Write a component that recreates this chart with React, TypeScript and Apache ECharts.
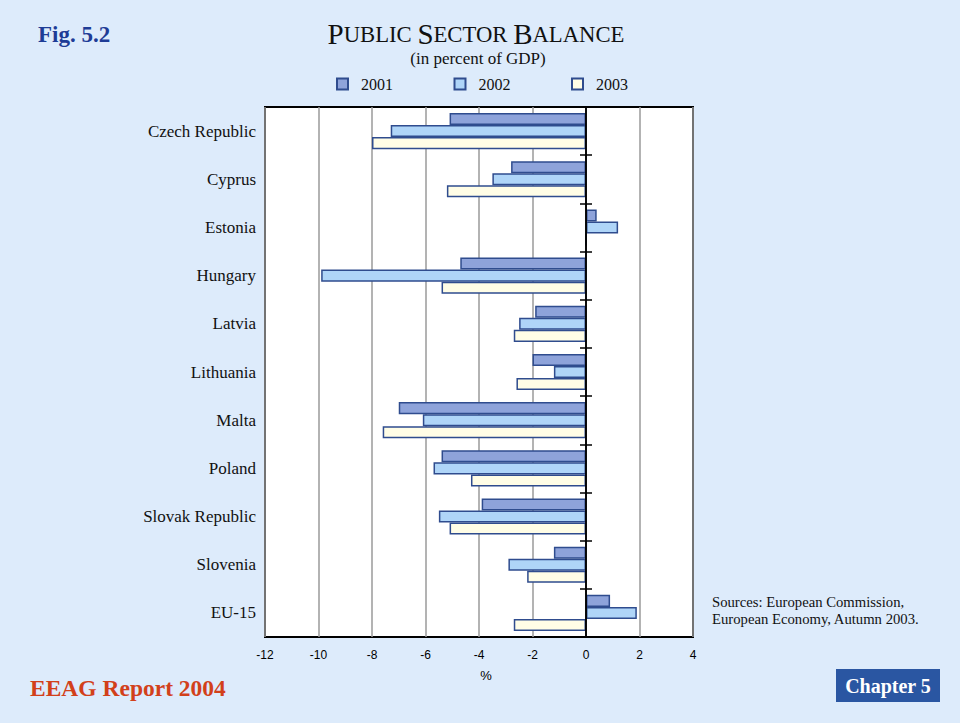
import React, { useEffect, useRef } from "react";
import * as echarts from "echarts";

const categories = [
  "Czech Republic",
  "Cyprus",
  "Estonia",
  "Hungary",
  "Latvia",
  "Lithuania",
  "Malta",
  "Poland",
  "Slovak Republic",
  "Slovenia",
  "EU-15",
];
const seriesNames = ["2001", "2002", "2003"];
const values2001 = [-5.1, -2.8, 0.4, -4.7, -1.9, -2.0, -7.0, -5.4, -3.9, -1.2, 0.9];
const values2002 = [-7.3, -3.5, 1.2, -9.9, -2.5, -1.2, -6.1, -5.7, -5.5, -2.9, 1.9];
const values2003 = [-8.0, -5.2, 0, -5.4, -2.7, -2.6, -7.6, -4.3, -5.1, -2.2, -2.7];
const xMin = -12;
const xMax = 4;
const xInterval = 2;

const fills = ["#8ea3da", "#afd5f8", "#fffde6"];
const borderCol = "#2f4c8e";
const serif = "'Liberation Serif', 'Times New Roman', serif";
const sans = "'Liberation Sans', Arial, sans-serif";

export default function App() {
  const ref = useRef<HTMLDivElement>(null);
  useEffect(() => {
    if (!ref.current) return;
    const chart = echarts.init(ref.current, null, { renderer: "svg" });
    const data = [values2001, values2002, values2003];
    const zeroAxisBase = {
      type: "category",
      data: categories,
      inverse: true,
      position: "left",
      axisLabel: { show: false },
      splitLine: { show: false },
      z: 5,
    };
    chart.setOption({
      animation: false,
      backgroundColor: "#ddebfb",
      grid: {
        left: 265,
        right: 267,
        top: 107,
        bottom: 86,
        show: true,
        backgroundColor: "#ffffff",
        borderColor: "#000000",
        borderWidth: 2,
        containLabel: false,
      },
      legend: {
        show: true,
        left: 331,
        top: 71,
        itemWidth: 11,
        itemHeight: 11,
        itemGap: 60.5,
        icon: "rect",
        data: seriesNames,
        textStyle: {
          fontFamily: serif,
          fontSize: 16,
          color: "#111",
          padding: [0, 0, 0, 8],
        },
      },
      xAxis: [
        {
          type: "value",
          min: xMin,
          max: xMax,
          interval: xInterval,
          axisLine: { show: false },
          axisTick: { show: false },
          axisLabel: {
            fontFamily: sans,
            fontSize: 12,
            color: "#000",
            margin: 12,
          },
          splitLine: { show: true, lineStyle: { color: "#9a9a9a", width: 1.5 } },
          name: "%",
          nameLocation: "middle",
          nameGap: 32,
          nameTextStyle: { fontFamily: sans, fontSize: 13, color: "#000", padding: [0, 0, 0, 14] },
        },
        {
          type: "value",
          min: xMin,
          max: xMax,
          interval: xInterval,
          show: false,
        },
      ],
      yAxis: [
        {
          type: "category",
          data: categories,
          inverse: true,
          position: "left",
          axisLine: { show: false, onZero: false },
          axisTick: { show: false },
          axisLabel: {
            fontFamily: serif,
            fontSize: 17,
            color: "#111",
            margin: 9,
            interval: 0,
          },
          splitLine: { show: false },
        },
        {
          ...zeroAxisBase,
          axisLine: { show: true, onZero: true, onZeroAxisIndex: 0, lineStyle: { color: "#000", width: 1.5 } },
          axisTick: { show: true, interval: 0, length: 6, lineStyle: { color: "#000", width: 1.5 } },
        },
        {
          ...zeroAxisBase,
          axisLine: { show: true, onZero: true, onZeroAxisIndex: 1, lineStyle: { color: "#000", width: 1.5 } },
          axisTick: { show: true, inside: true, interval: 0, length: 6, lineStyle: { color: "#000", width: 1.5 } },
        },
      ],
      series: seriesNames.map((name, i) => ({
        name,
        type: "bar",
        xAxisIndex: 0,
        yAxisIndex: 0,
        data: data[i],
        barCategoryGap: "25%",
        barGap: "0%",
        itemStyle: { color: fills[i], borderColor: borderCol, borderWidth: 1.5 },
        emphasis: { disabled: true },
      })),
      graphic: [
        {
          type: "text",
          x: 38,
          y: 34,
          style: {
            text: "Fig. 5.2",
            fontFamily: serif,
            fontWeight: "bold",
            fontSize: 23,
            fill: "#1e3c96",
            verticalAlign: "middle",
          },
        },
        {
          type: "text",
          x: 476,
          y: 34,
          style: {
            text: "{a|P}{b|UBLIC }{a|S}{b|ECTOR }{a|B}{b|ALANCE}",
            align: "center",
            verticalAlign: "middle",
            fill: "#111",
            rich: {
              a: { fontFamily: serif, fontSize: 29, lineHeight: 22, fill: "#111" },
              b: { fontFamily: serif, fontSize: 22.7, lineHeight: 22, fill: "#111" },
            },
          },
        },
        {
          type: "text",
          x: 478,
          y: 58,
          style: {
            text: "(in percent of GDP)",
            fontFamily: serif,
            fontSize: 17,
            lineHeight: 17,
            fill: "#111",
            align: "center",
            verticalAlign: "middle",
          },
        },
        {
          type: "text",
          x: 712,
          y: 610,
          style: {
            text: "Sources: European Commission,\nEuropean Economy, Autumn 2003.",
            fontFamily: serif,
            fontSize: 14.7,
            lineHeight: 17,
            fill: "#111",
            verticalAlign: "middle",
          },
        },
        {
          type: "text",
          x: 30,
          y: 688,
          style: {
            text: "EEAG Report 2004",
            fontFamily: serif,
            fontWeight: "bold",
            fontSize: 23.5,
            fill: "#d2401a",
            verticalAlign: "middle",
          },
        },
        {
          type: "rect",
          shape: { x: 836, y: 669, width: 104, height: 33 },
          style: { fill: "#2a56a2" },
        },
        {
          type: "text",
          x: 888,
          y: 686,
          style: {
            text: "Chapter 5",
            fontFamily: serif,
            fontWeight: "bold",
            fontSize: 20,
            fill: "#ffffff",
            align: "center",
            verticalAlign: "middle",
          },
        },
      ],
    });
    return () => chart.dispose();
  }, []);
  return (
    <div style={{ position: "fixed", left: 0, top: 0, width: 960, height: 723, background: "#ddebfb" }}>
      <div ref={ref} style={{ width: 960, height: 723 }} />
    </div>
  );
}
